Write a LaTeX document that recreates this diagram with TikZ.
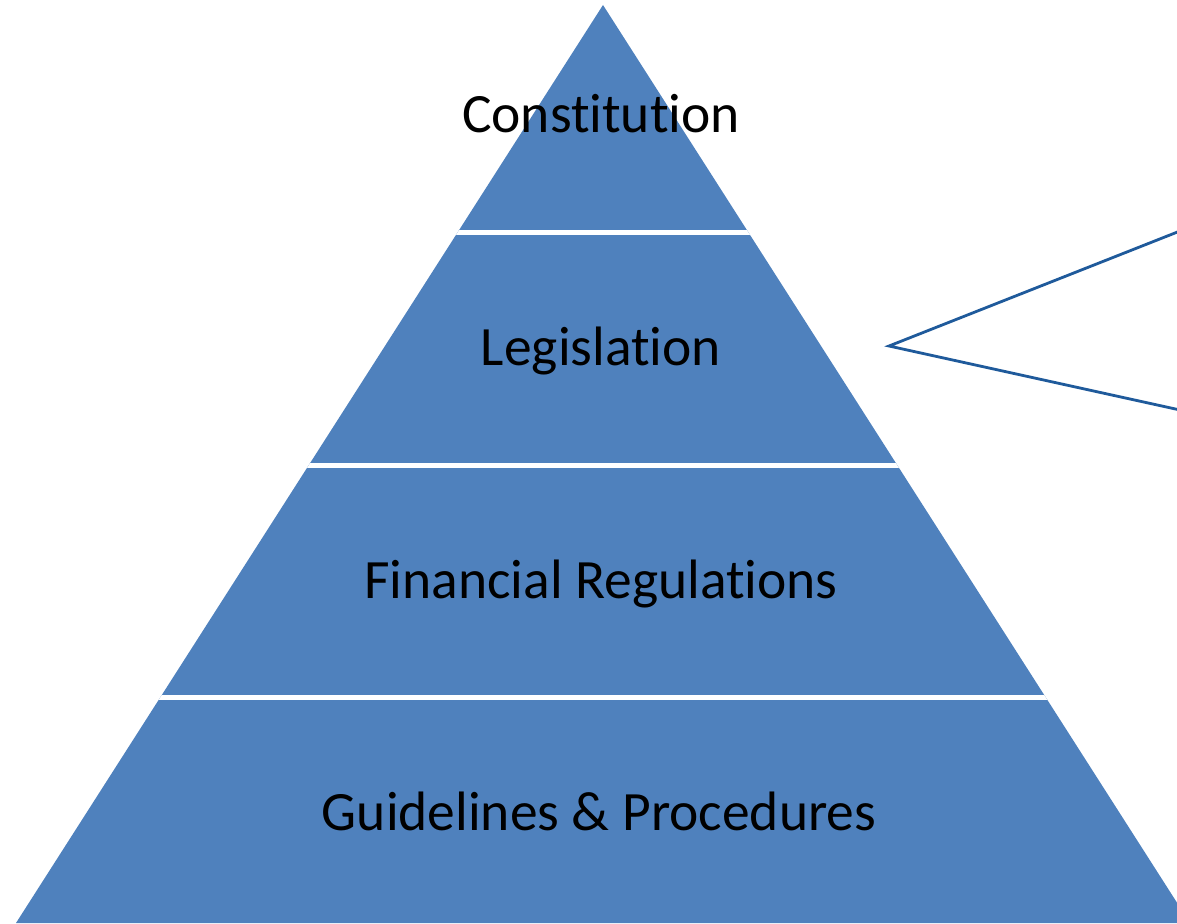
\documentclass[tikz,border=0pt]{standalone}
\usepackage{fontspec}
\setmainfont[Ligatures={NoCommon}]{Carlito}
\definecolor{pyrblue}{HTML}{4F81BD}
\definecolor{callblue}{HTML}{1F5A9B}
\tikzset{
  level/.style={font=\fontsize{55.5}{60}\selectfont, text=black, inner sep=0pt, anchor=base},
  gap/.style={draw=white, line width=5pt},
  callout/.style={draw=callblue, line width=2.8pt, line join=miter}
}
\begin{document}
\begin{tikzpicture}[x=1pt,y=-1pt]
\useasboundingbox (0,0) rectangle (1177,923);
\coordinate (apex) at (603,5);
\coordinate (bl) at (16,923);
\coordinate (br) at (1190,923);
\fill[pyrblue] (apex) -- (br) -- (bl) -- cycle;
\begin{scope}
\clip (apex) -- (br) -- (bl) -- cycle;
\draw[gap] (0,232) -- (1177,232);
\draw[gap] (0,465) -- (1177,465);
\draw[gap] (0,697) -- (1177,697);
\end{scope}
\node[level] (c) at (601,132) {Constitution};
\node[level] (l) at (601,365) {Legislation};
\node[level] (f) at (601,598) {Financial Regulations};
\node[level] (g) at (599,830) {Guidelines \& Procedures};
\coordinate (tip) at (889,346);
\coordinate (ctop) at (1180,231);
\coordinate (cbot) at (1180,410);
\draw[callout] (ctop) -- (tip) -- (cbot);
\end{tikzpicture}
\end{document}
